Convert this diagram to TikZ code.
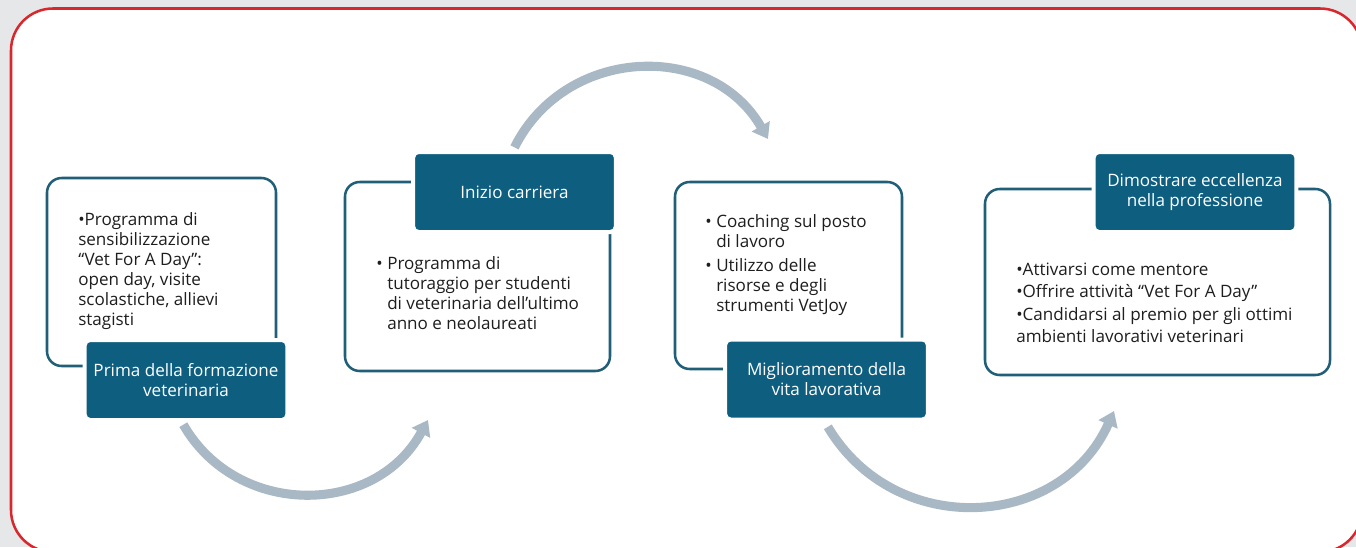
\documentclass[tikz,border=0pt]{standalone}
\usepackage{fontspec}
\setmainfont{Open Sans}
\usetikzlibrary{arrows.meta}
\definecolor{vetgray}{HTML}{E6E7E9}
\definecolor{vetred}{HTML}{D9272E}
\definecolor{vetteal}{HTML}{0E5E80}
\definecolor{vetline}{HTML}{215F79}
\definecolor{vetarrow}{HTML}{A9B8C5}
\definecolor{vettext}{HTML}{1E1E1E}
\begin{document}
\begin{tikzpicture}[x=0.75pt,y=-0.75pt,
 infobox/.style={draw=vetline,line width=1.9pt,rounded corners=11pt,fill=white,inner sep=0pt},
 phasebox/.style={fill=vetteal,draw=white,line width=3pt,rounded corners=4pt,text=white,minimum width=152pt,minimum height=60pt,align=center,font=\fontsize{12.8}{15}\selectfont},
 bullettext/.style={anchor=north west,inner sep=0pt,align=left,text=vettext,font=\fontsize{12.8}{15}\selectfont},
 flowarrow/.style={draw=vetarrow,line width=6.8pt,-{Triangle[width=15pt,length=11pt]}}]
 \useasboundingbox (0,0) rectangle (1356,547);
 \fill[vetgray] (0,0) rectangle (1356,547);
 \draw[vetred,line width=1.9pt,fill=white,rounded corners=31.5pt] (11,8.5) rectangle (1362,552);
 \node[infobox,minimum width=171.75pt,minimum height=141pt] (box1) at (161.5,272) {};
 \node[infobox,minimum width=198.75pt,minimum height=141.75pt] (box2) at (477.5,276.5) {};
 \node[infobox,minimum width=170.25pt,minimum height=140.25pt] (box3) at (788.5,275.5) {};
 \node[infobox,minimum width=258.75pt,minimum height=139.5pt] (box4) at (1157.5,282) {};
 \node[phasebox] (lab1) at (186,380) {Prima della formazione\\veterinaria};
 \node[phasebox] (lab2) at (514.5,192) {Inizio carriera};
 \node[phasebox] (lab3) at (826.5,379.5) {Miglioramento della\\vita lavorativa};
 \node[phasebox] (lab4) at (1195,192) {Dimostrare eccellenza\\nella professione};
 \node[bullettext] (txt1) at (78,212) {•Programma di\\sensibilizzazione\\“Vet For A Day”:\\open day, visite\\scolastiche, allievi\\stagisti};
 \node[bullettext] (txt2) at (387,256) {\llap{•\ }Programma di\\tutoraggio per studenti\\di veterinaria dell'ultimo\\anno e neolaureati};
 \node[bullettext] (txt3) at (716,214) {\llap{•\ }Coaching sul posto\\di lavoro\\[3pt]\llap{•\ }Utilizzo delle\\risorse e degli\\strumenti VetJoy};
 \node[bullettext,font=\fontsize{12.8}{16.6}\selectfont] (txt4) at (1016,263) {•Attivarsi come mentore\\•Offrire attività “Vet For A Day"\\•Candidarsi al premio per gli ottimi\\ambienti lavorativi veterinari};
 \coordinate (a1s) at ([xshift=-2pt,yshift=-2pt]lab1.south);
 \coordinate (a1e) at (428,420);
 \coordinate (a2s) at ([yshift=2pt]lab2.north);
 \coordinate (a2e) at (768,139);
 \coordinate (a3s) at ([xshift=1pt,yshift=-4pt]lab3.south);
 \coordinate (a3e) at (1114,411);
 \draw[flowarrow] (a1s) .. controls (237,518) and (375,517) .. (a1e);
 \draw[flowarrow] (a2s) .. controls (565,46) and (711,40) .. (a2e);
 \draw[flowarrow] (a3s) .. controls (895,540) and (1061,530) .. (a3e);
\end{tikzpicture}
\end{document}
